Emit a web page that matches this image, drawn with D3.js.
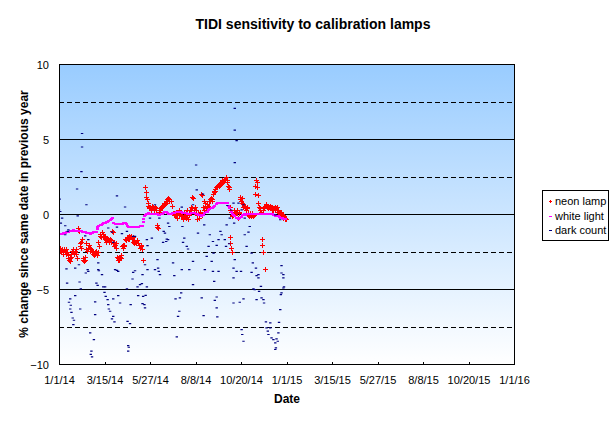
<!DOCTYPE html>
<html>
<head>
<meta charset="utf-8">
<script src="https://cdn.jsdelivr.net/npm/d3@7"></script>
<style>
  html, body { margin: 0; padding: 0; background: #ffffff; }
  svg { display: block; }
  text { font-family: "Liberation Sans", Arial, sans-serif; }
</style>
</head>
<body>
<svg id="chart" width="615" height="421"></svg>
<script>
// ---------------- data (day offset from 1/1/14, % change) ----------------
const startDate = "1/1/14";
const endDate = "1/1/16";
const xTickLabels = ["1/1/14","3/15/14","5/27/14","8/8/14","10/20/14","1/1/15","3/15/15","5/27/15","8/8/15","10/20/15","1/1/16"];
const yTicks = [-10, -5, 0, 5, 10];
const ySolid = [-5, 0, 5];
const yDashed = [-7.5, -2.5, 2.5, 7.5];
const seriesNames = ["neon lamp", "white light", "dark count"];

const neonLamp = [
[0,-2.3],[1,-2.4],[2,-2.2],[3,-2.4],[4,-2.5],[5,-2.3],[6,-2.4],[7,-2.6],[8,-2.3],[9,-2.5],[10,-2.4],[11,-2.6],[12,-2.3],[13,-2.5],
[14,-2.7],[15,-2.9],[16,-3.0],[17,-3.1],[18,-2.9],[19,-2.8],[20,-2.6],[21,-2.4],[22,-2.5],[23,-2.3],[24,-2.6],[25,-2.4],[26,-2.5],
[27,-2.3],[28,-2.6],[29,-2.9],[30,-1.0],[31,-0.9],[32,-1.1],[33,-1.9],[34,-2.1],[35,-1.8],[36,-2.2],[37,-1.6],
[38,-3.0],[39,-2.9],[40,-3.1],[41,-3.0],[42,-2.8],[43,-2.3],[44,-1.9],[45,-2.4],[46,-2.2],[47,-2.3],[48,-2.0],[49,-2.4],[50,-2.2],[52,-2.3],
[53,-2.5],[54,-2.6],[55,-2.4],[56,-2.7],[57,-2.5],[58,-2.6],[59,-2.4],[60,-2.5],[61,-2.7],[62,-2.5],[63,-1.8],[64,-2.1],[65,-1.4],
[66,-1.3],[67,-1.4],[68,-1.5],[69,-1.2],[70,-1.4],[71,-1.3],[72,-1.5],[73,-1.4],[74,-1.6],[75,-1.7],[76,-1.8],[77,-1.6],[78,-1.7],
[79,-1.6],[80,-1.8],[81,-1.7],[82,-1.6],[83,-1.7],[84,-1.8],[85,-1.1],[86,-1.2],[87,-1.9],[88,-2.1],[89,-1.8],[90,-2.0],[91,-2.2],[92,-1.9],
[93,-2.8],[94,-2.9],[95,-3.0],[96,-2.9],[97,-3.0],[98,-2.8],[99,-2.9],[100,-2.7],[101,-2.1],[102,-2.0],[103,-2.2],[104,-2.1],[105,-2.0],
[106,-1.6],[107,-1.7],[108,-1.6],[109,-1.5],[110,-1.6],[111,-1.5],[112,-1.4],[113,-1.6],[114,-1.5],[115,-1.4],[116,-1.5],[117,-1.6],[118,-1.5],
[119,-1.8],[120,-1.9],[121,-1.7],[122,-1.8],[123,-1.9],[124,-1.8],[125,-1.7],[126,-1.9],[128,-2.0],[130,-2.2],[131,-2.0],[132,-2.1],[133,-2.3],[134,-3.0],
[138,1.8],[139,1.5],[140,1.2],[141,1.0],[142,0.8],[143,0.6],[144,0.5],[145,0.4],[146,0.5],[147,0.3],[148,0.4],[149,0.6],[150,0.4],
[151,0.5],[152,0.3],[153,0.4],[154,0.5],[155,0.4],[156,0.3],[157,-0.8],[158,-0.7],[159,-0.9],[160,0.3],[161,0.2],
[162,0.3],[163,0.4],[164,0.5],[165,0.6],[166,0.5],[167,0.6],[168,0.7],[169,0.8],[170,0.7],[171,0.8],[172,0.9],[173,1.0],[174,0.9],
[175,1.1],[176,0.9],[177,1.0],[179,0.9],[181,0.6],[183,0.1],[184,0.0],[185,0.1],[186,0.0],[187,0.2],[188,0.0],
[189,0.0],[190,-0.2],[191,0.1],[192,0.0],[193,0.3],[194,0.2],[195,-0.1],[196,0.1],[197,0.0],[198,-0.1],
[199,-0.3],[200,-0.1],[201,0.2],[202,0.0],[203,-0.2],[204,0.1],[205,0.0],[206,0.3],[207,-0.3],[208,0.1],[209,0.0],
[210,0.3],[211,0.5],[212,0.2],[213,0.4],[214,1.2],[215,1.1],[216,0.3],[217,0.2],[218,0.5],[219,0.1],[220,0.3],
[221,0.0],[222,-0.3],[223,0.1],[224,0.0],[225,-0.2],[226,0.2],[227,0.1],[228,1.4],[229,1.3],[230,0.0],
[231,0.5],[232,0.9],[233,0.3],[234,0.6],[235,0.8],[236,0.4],[237,0.7],[238,0.3],[239,0.6],[240,0.5],[241,0.9],
[242,0.9],[243,1.0],[244,1.1],[245,0.9],[246,1.0],[247,1.4],[248,1.5],[249,1.6],[250,1.7],[251,1.6],[252,1.8],[253,1.9],
[254,1.8],[255,2.0],[256,1.9],[257,2.0],[258,2.1],[259,2.0],[260,2.2],[261,2.1],[262,2.3],[263,2.2],[264,2.3],[265,2.4],
[266,2.3],[267,2.4],[268,2.5],[269,2.3],[270,2.2],[271,1.9],[272,1.7],[273,1.8],
[274,-1.5],[275,-1.9],[276,-2.25],[277,-2.5],[274,0.5],[275,0.3],[276,0.2],[277,-0.1],[278,0.0],
[279,0.0],[280,0.3],[281,0.1],[282,0.2],[283,0.0],[284,0.1],[285,0.3],[286,0.2],[287,-0.2],[288,0.1],[289,0.2],
[290,1.0],[291,1.2],[292,0.9],[293,1.1],[294,0.8],[295,0.7],[296,0.5],[297,0.6],[298,0.4],[299,0.5],[300,0.3],[301,0.4],[302,0.5],
[303,0.1],[304,0.0],[305,-0.1],[306,0.0],[307,0.1],[308,-0.1],[309,0.0],[310,0.1],[311,0.0],[312,-0.1],[313,0.0],
[314,1.4],[315,1.9],[316,2.3],[317,2.2],[318,1.8],[319,1.3],[320,0.8],[321,0.5],[322,0.3],[323,0.4],[324,0.2],
[325,-1.6],[326,-2.0],[328,-2.5],[330,-3.6],
[327,0.3],[329,0.5],[331,0.6],[332,0.7],[333,0.5],[334,0.6],[335,0.5],[336,0.4],[337,0.5],[338,0.6],[339,0.4],[340,0.5],
[341,0.3],[342,0.5],[343,0.4],[344,0.3],[345,0.4],[346,0.5],[347,0.3],[348,0.4],[349,0.5],
[350,0.3],[351,0.2],[352,0.3],[353,0.1],[354,0.2],[355,0.1],[356,0.2],[357,0.0],
[358,-0.1],[359,0.0],[360,-0.2],[361,-0.1],[362,-0.3],[363,-0.2],[364,-0.3]
];

const whiteLight = [
[0,-1.3],[2,-1.3],[4,-1.28],[6,-1.27],[8,-1.25],[10,-1.22],[12,-1.2],[14,-1.18],[16,-1.15],
[18,-1.1],[20,-1.07],[22,-1.07],[24,-1.05],[26,-1.07],[28,-1.08],[30,-1.1],[32,-1.12],[34,-1.1],[36,-1.13],[38,-1.15],[40,-1.17],
[42,-1.2],[44,-1.22],[46,-1.25],[48,-1.25],[50,-1.27],[52,-1.25],[54,-1.24],[56,-1.2],[58,-1.17],[60,-1.15],[61,-0.95],[62,-0.85],
[64,-0.75],[66,-0.7],[68,-0.68],[70,-0.63],[72,-0.58],[74,-0.55],[76,-0.52],[78,-0.48],[80,-0.42],[82,-0.38],[84,-0.3],[86,-0.26],
[88,-0.55],[90,-0.6],[92,-0.62],[94,-0.65],[96,-0.66],[98,-0.65],[100,-0.64],[102,-0.6],[104,-0.55],[106,-0.57],[108,-0.62],
[110,-0.78],[112,-0.8],[114,-0.82],[116,-0.81],[118,-0.83],[120,-0.84],[122,-0.83],[124,-0.84],[126,-0.82],
[128,-0.8],[130,-0.79],[132,-0.78],[134,-0.77],[135,-0.5],[136,-0.3],[137,-0.1],
[138,0.0],[140,0.05],[142,0.05],[144,0.08],[146,0.06],[148,0.05],[150,0.05],[152,0.04],[154,0.05],
[156,0.03],[158,0.02],[160,0.0],[162,0.0],[164,0.02],[166,0.05],[168,0.1],[170,0.15],[172,0.15],
[174,0.08],[176,0.05],[178,0.05],[180,0.05],[182,0.08],[184,0.1],[186,0.12],[188,0.15],[190,0.15],[192,0.18],[194,0.18],[196,0.15],[198,0.12],
[200,0.1],[202,0.1],[204,0.08],[206,0.05],[208,0.05],[210,0.05],[212,0.08],[214,0.1],[216,0.1],[218,0.08],[220,0.05],[222,0.05],
[224,0.0],[226,-0.05],[228,-0.1],[230,-0.05],[232,0.0],
[234,0.1],[236,0.15],[238,0.2],[240,0.28],[242,0.35],[244,0.4],[246,0.45],[248,0.5],[250,0.58],[252,0.7],[254,0.8],[256,0.8],
[258,0.8],[260,0.8],[262,0.8],[264,0.8],[266,0.8],[268,0.8],[270,0.78],[272,0.6],[274,0.4],[276,0.2],[278,0.05],
[280,0.0],[282,-0.1],[284,-0.2],[286,-0.25],[288,-0.3],[290,-0.25],[292,-0.15],[294,0.0],[296,0.0],[298,0.02],[300,0.0],
[302,0.02],[304,0.03],[306,0.05],[308,0.05],[310,0.04],[312,0.05],[314,0.05],[316,0.04],[318,0.05],[320,0.05],[322,0.04],
[324,0.05],[326,0.05],[328,0.04],[330,0.05],[332,0.05],[334,0.04],[336,0.05],[338,0.05],[340,0.05],[342,0.02],[344,0.0],
[346,-0.05],[348,-0.1],[350,-0.1],[352,-0.12],[354,-0.15],[356,-0.2],[358,-0.25],[360,-0.28],[362,-0.3],[364,-0.3]
];

const darkCount = [
[1,1.03],[2,0.2],[37,5.4],[37,4.5],[36,2.86],[29,1.7],[44,0.65],[93,1.24],[106,0.5],[220,3.3],[221,1.64],[231,1.36],
[282,7.08],[282,5.63],[285,4.92],[282,3.46],[280,0.76],[270,0.6],[276,0.3],
[0,0.31],[3,-0.57],[5,-0.24],[10,-0.75],[14,-1.13],[30,-0.09],[42,-1.42],[47,-1.68],[87,-1.86],[93,-0.84],[109,-1.13],
[119,-1.46],[141,-1.68],[142,-2.08],[12,-3.63],[26,-3.57],[32,-3.35],[46,-3.68],[63,-3.23],[63,-3.68],[93,-3.73],
[138,-3.35],[142,-3.68],[15,-1.02],[10,-1.35],[79,-0.9],[85,-1.17],[101,-1.28],[122,-1.46],[146,-0.24],
[154,0.65],[161,-0.24],[175,-0.57],[177,-0.8],[168,-1.13],[170,-1.24],[173,-1.64],[172,-1.8],[175,-1.68],[167,-1.86],
[158,-3.01],[159,-3.57],[160,-3.79],[149,-1.57],[183,-3.23],[185,-4.08],[198,-0.8],[199,-1.86],[205,-2.13],[207,-2.3],
[201,-1.57],[215,-3.13],[209,-3.68],[223,-1.24],[233,-0.69],[234,-3.68],[240,-2.13],[242,-1.35],[247,-1.8],[237,-2.79],
[248,-2.57],[245,-3.13],[247,-3.79],[253,-2.06],[256,-1.68],[259,-1.13],[261,-1.35],[266,-1.68],[268,-2.13],[273,-1.95],
[269,-0.69],[274,-0.24],[282,-3.01],[280,-3.57],[285,-3.79],[298,-1.35],[304,-1.17],[301,-2.13],[306,-0.8],[309,-2.57],
[311,-3.23],[316,-3.57],[320,-4.01],[298,-0.24],[357,-3.41],[360,-4.01],[347,-0.02],[355,-0.35],[296,0.65],[293,0.31],
[288,0.76],[215,0.65],[197,0.49],[281,-0.57],
[13,-4.57],[18,-5.63],[16,-5.85],[19,-6.05],[18,-6.3],[20,-6.52],[22,-6.9],[24,-7.05],[23,-7.34],[26,-5.41],[33,-4.5],
[34,-6.3],[35,-4.96],[43,-3.9],[47,-3.79],[50,-7.89],[52,-9.11],[51,-9.33],[53,-9.49],[56,-8.34],[58,-5.83],[58,-6.67],
[60,-4.57],[62,-4.72],[64,-3.75],[69,-4.01],[71,-4.83],[74,-4.83],[73,-5.19],[75,-5.46],[78,-5.68],[79,-6.01],[80,-6.3],
[82,-6.45],[85,-6.96],[87,-6.79],[89,-7.16],[90,-3.68],[95,-3.79],[98,-5.9],[87,-5.63],[95,-5.41],[109,-4.96],[110,-7.12],
[114,-7.27],[111,-8.74],[112,-8.85],[111,-9.11],[115,-6.01],[118,-4.3],[119,-3.86],[122,-3.75],[126,-4.83],[127,-5.41],
[130,-4.68],[133,-4.61],[135,-5.46],[134,-5.94],[138,-6.23],[137,-6.01],[139,-5.39],[141,-4.83],[134,-4.01],[154,-3.68],
[162,-4.01],[187,-5.63],[189,-8.16],[191,-6.79],[193,-6.45],[194,-5.56],[196,-5.23],[197,-3.68],[215,-4.68],[229,-5.56],
[232,-6.74],[249,-4.46],[250,-5.72],[253,-5.5],[253,-6.23],[254,-6.83],[256,-3.79],[280,-4.23],[280,-5.9],[290,-5.85],
[292,-3.79],[293,-7.67],[294,-8.0],[296,-8.45],[296,-5.63],[309,-3.86],[312,-4.96],[314,-5.01],[317,-4.08],[317,-5.68],
[320,-4.23],[321,-5.12],[324,-4.79],[325,-5.56],[328,-5.68],[329,-5.9],[332,-7.16],[333,-7.56],[335,-7.78],[336,-8.0],
[339,-7.23],[339,-7.56],[341,-8.22],[344,-8.34],[347,-8.56],[347,-9.0],[349,-8.29],[348,-8.89],[351,-8.45],[352,-7.89],
[353,-7.19],[355,-6.34],[356,-5.34],[357,-3.9],[360,-4.23],[360,-4.9],[361,-4.83],[357,-5.23]
];

// ---------------- chart ----------------
const svg = d3.select("#chart");
const parse = d3.utcParse("%m/%d/%y");
const t0 = parse(startDate);
const M = { left: 59, right: 514, top: 64.5, bottom: 364.5 };

const x = d3.scaleUtc().domain([t0, parse(endDate)]).range([M.left, M.right]);
const y = d3.scaleLinear().domain([-10, 10]).range([M.bottom, M.top]);
const dayToDate = d => d3.utcDay.offset(t0, d);

// background gradient
const defs = svg.append("defs");
const grad = defs.append("linearGradient").attr("id", "bg").attr("x1", 0).attr("y1", 0).attr("x2", 0).attr("y2", 1);
grad.append("stop").attr("offset", "0%").attr("stop-color", "#99ccff");
grad.append("stop").attr("offset", "100%").attr("stop-color", "#ffffff");
defs.append("clipPath").attr("id", "clip").append("rect")
  .attr("x", M.left).attr("y", M.top).attr("width", M.right - M.left).attr("height", M.bottom - M.top);

svg.append("rect").attr("x", M.left).attr("y", M.top)
  .attr("width", M.right - M.left).attr("height", M.bottom - M.top)
  .attr("fill", "url(#bg)");

// gridlines
const grid = svg.append("g").attr("shape-rendering", "crispEdges");
grid.selectAll("line.s").data(ySolid).join("line").attr("class", "s")
  .attr("x1", M.left).attr("x2", M.right).attr("y1", d => y(d)).attr("y2", d => y(d))
  .attr("stroke", "#000").attr("stroke-width", 1);
grid.selectAll("line.d").data(yDashed).join("line").attr("class", "d")
  .attr("x1", M.left).attr("x2", M.right).attr("y1", d => y(d)).attr("y2", d => y(d))
  .attr("stroke", "#000").attr("stroke-width", 1).attr("stroke-dasharray", "5,3");

// series
const plot = svg.append("g").attr("clip-path", "url(#clip)");
const plusPath = "M-2.5,0H2.5M0,-2.5V2.5";
plot.append("g").attr("shape-rendering", "crispEdges").selectAll("path").data(neonLamp).join("path")
  .attr("transform", d => `translate(${Math.round(x(dayToDate(d[0]))) + 0.5},${Math.round(y(d[1])) + 0.5})`)
  .attr("d", plusPath).attr("stroke", "#ff0000").attr("stroke-width", 1).attr("fill", "none");

plot.append("g").attr("shape-rendering", "crispEdges").selectAll("line").data(whiteLight).join("line")
  .attr("x1", d => x(dayToDate(d[0])) - 1.5).attr("x2", d => x(dayToDate(d[0])) + 1.5)
  .attr("y1", d => Math.round(y(d[1]))).attr("y2", d => Math.round(y(d[1])))
  .attr("stroke", "#ff00ff").attr("stroke-width", 2);

plot.append("g").selectAll("line").data(darkCount).join("line")
  .attr("x1", d => x(dayToDate(d[0])) - 1.2).attr("x2", d => x(dayToDate(d[0])) + 1.2)
  .attr("y1", d => y(d[1])).attr("y2", d => y(d[1]))
  .attr("stroke", "#000080").attr("stroke-width", 1.2);

// frame
svg.append("rect").attr("x", M.left).attr("y", M.top)
  .attr("width", M.right - M.left).attr("height", M.bottom - M.top)
  .attr("fill", "none").attr("stroke", "#000").attr("stroke-width", 1).attr("shape-rendering", "crispEdges");

// x axis
const xTickDates = xTickLabels.map(parse);
const xAxis = d3.axisBottom(x).tickValues(xTickDates).tickSize(-3).tickPadding(12)
  .tickFormat((d, i) => xTickLabels[i]);
const gx = svg.append("g").attr("transform", `translate(0,${M.bottom})`).call(xAxis);
gx.select(".domain").remove();
gx.selectAll(".tick line").attr("stroke", "#000").attr("shape-rendering", "crispEdges");
gx.selectAll(".tick text").attr("font-size", 11).attr("font-family", "Liberation Sans, Arial, sans-serif").attr("fill", "#000");

// y axis
const yAxis = d3.axisLeft(y).tickValues(yTicks).tickSize(0).tickPadding(10).tickFormat(d3.format("d"));
const gy = svg.append("g").attr("transform", `translate(${M.left},0)`).call(yAxis);
gy.select(".domain").remove();
gy.selectAll(".tick text").attr("font-size", 11).attr("font-family", "Liberation Sans, Arial, sans-serif").attr("fill", "#000");

// titles
svg.append("text").attr("x", 313).attr("y", 29).attr("text-anchor", "middle")
  .attr("font-size", 14).attr("font-weight", "bold").text("TIDI sensitivity to calibration lamps");
svg.append("text").attr("x", 287).attr("y", 403).attr("text-anchor", "middle")
  .attr("font-size", 12).attr("font-weight", "bold").text("Date");
svg.append("text").attr("transform", "translate(28,214) rotate(-90)").attr("text-anchor", "middle")
  .attr("font-size", 12).attr("font-weight", "bold").text("% change since same date in previous year");

// legend
const lg = svg.append("g");
lg.append("rect").attr("x", 542.5).attr("y", 190.5).attr("width", 66).attr("height", 50)
  .attr("fill", "#fff").attr("stroke", "#000").attr("stroke-width", 1).attr("shape-rendering", "crispEdges");
const legendY = [201, 215.5, 230];
const legendColors = ["#ff0000", "#ff00ff", "#000080"];
seriesNames.forEach((name, i) => {
  const cy = legendY[i];
  if (i === 0) {
    lg.append("path").attr("transform", `translate(550.5,${cy + 0.5})`).attr("d", "M-1.5,0H1.5M0,-1.5V1.5")
      .attr("stroke", legendColors[i]).attr("stroke-width", 1).attr("shape-rendering", "crispEdges").attr("fill", "none");
  } else {
    lg.append("line").attr("x1", 549).attr("x2", 552).attr("y1", cy + 0.5).attr("y2", cy + 0.5)
      .attr("stroke", legendColors[i]).attr("stroke-width", 1).attr("shape-rendering", "crispEdges");
  }
  lg.append("text").attr("x", 555).attr("y", cy + 4).attr("font-size", 11).text(name);
});
</script>
</body>
</html>
